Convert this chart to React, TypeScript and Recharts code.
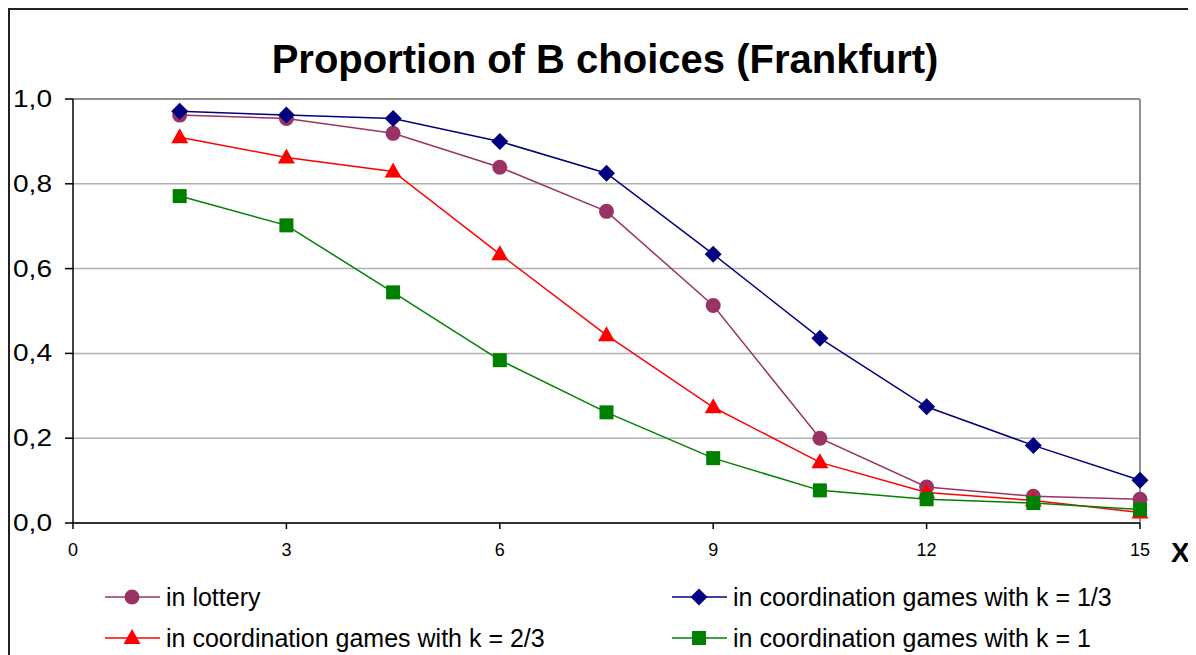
import React from 'react';
import { LineChart, Line, XAxis, YAxis, CartesianGrid, ReferenceLine, Legend } from 'recharts';

const xValues = [1.5, 3, 4.5, 6, 7.5, 9, 10.5, 12, 13.5, 15];
const lottery = [0.962, 0.954, 0.919, 0.839, 0.735, 0.513, 0.2, 0.085, 0.063, 0.056];
const kThird = [0.971, 0.962, 0.954, 0.9, 0.825, 0.634, 0.436, 0.274, 0.183, 0.101];
const kTwoThirds = [0.91, 0.862, 0.829, 0.634, 0.443, 0.273, 0.143, 0.072, 0.053, 0.025];
const kOne = [0.771, 0.702, 0.544, 0.384, 0.261, 0.153, 0.077, 0.056, 0.047, 0.032];
const xTicks = [0, 3, 6, 9, 12, 15];
const yTicks = [0, 0.2, 0.4, 0.6, 0.8, 1.0];

const seriesNames = {
  lottery: 'in lottery',
  kThird: 'in coordination games with k = 1/3',
  kTwoThirds: 'in coordination games with k = 2/3',
  kOne: 'in coordination games with k = 1',
};

const data = xValues.map((x, i) => ({
  x,
  lottery: lottery[i],
  kThird: kThird[i],
  kTwoThirds: kTwoThirds[i],
  kOne: kOne[i],
}));

const FONT = 'Liberation Sans, Arial, sans-serif';

type Shape = 'circle' | 'diamond' | 'triangle' | 'square';

const Marker = ({ cx, cy, shape, color }: { cx: number; cy: number; shape: Shape; color: string }) => {
  if (cx == null || cy == null) return null;
  if (shape === 'circle') return <circle cx={cx} cy={cy} r={7.5} fill={color} />;
  if (shape === 'diamond')
    return <polygon points={`${cx},${cy - 8.5} ${cx + 8.5},${cy} ${cx},${cy + 8.5} ${cx - 8.5},${cy}`} fill={color} />;
  if (shape === 'triangle')
    return <polygon points={`${cx},${cy - 9} ${cx + 8.5},${cy + 6} ${cx - 8.5},${cy + 6}`} fill={color} />;
  return <rect x={cx - 7} y={cy - 7} width={14} height={14} fill={color} />;
};

const seriesDefs: { key: keyof typeof seriesNames; color: string; shape: Shape }[] = [
  { key: 'lottery', color: '#993366', shape: 'circle' },
  { key: 'kThird', color: '#000080', shape: 'diamond' },
  { key: 'kTwoThirds', color: '#FF0000', shape: 'triangle' },
  { key: 'kOne', color: '#008000', shape: 'square' },
];

const LegendContent = () => {
  const positions = [
    { left: 95, top: 572 },
    { left: 662, top: 572 },
    { left: 95, top: 613 },
    { left: 662, top: 613 },
  ];
  return (
    <div>
      {seriesDefs.map((s, i) => (
        <div
          key={s.key}
          style={{
            position: 'absolute',
            left: positions[i].left,
            top: positions[i].top,
            display: 'flex',
            alignItems: 'center',
            height: 30,
            whiteSpace: 'nowrap',
          }}
        >
          <svg width={56} height={30}>
            <line x1={0} y1={15} x2={55} y2={15} stroke={s.color} strokeWidth={1.5} />
            <Marker cx={27} cy={15} shape={s.shape} color={s.color} />
          </svg>
          <span style={{ fontFamily: FONT, fontSize: 25, color: '#000', marginLeft: 5 }}>{seriesNames[s.key]}</span>
        </div>
      ))}
    </div>
  );
};

const YTick = (props: any) => {
  const { x, y, payload } = props;
  const label = Number(payload.value).toFixed(1).replace('.', ',');
  return (
    <text
      x={x}
      y={y}
      dy={8}
      textAnchor="end"
      fill="#000"
      fontSize={23}
      fontFamily={FONT}
      textLength={39}
      lengthAdjust="spacingAndGlyphs"
    >
      {label}
    </text>
  );
};

export default function App() {
  return (
    <div
      style={{
        position: 'relative',
        width: 1180,
        height: 645,
        border: '2px solid #222',
        background: '#fff',
      }}
    >
      <div
        style={{
          position: 'absolute',
          left: 0,
          width: 1190,
          top: 27,
          textAlign: 'center',
          fontFamily: FONT,
          fontWeight: 'bold',
          fontSize: 40,
          color: '#000',
        }}
      >
        Proportion of B choices (Frankfurt)
      </div>
      <div
        style={{
          position: 'absolute',
          left: 1161,
          top: 527,
          fontFamily: FONT,
          fontWeight: 'bold',
          fontSize: 28,
          color: '#000',
        }}
      >
        X
      </div>
      <LineChart width={1180} height={645} data={data} margin={{ top: 89, right: 50, left: 0, bottom: 102 }}>
        <CartesianGrid horizontal vertical={false} stroke="#b0b0b0" strokeWidth={1.5} />
        <ReferenceLine x={15} stroke="#909090" strokeWidth={2} />
        <ReferenceLine y={1} stroke="#909090" strokeWidth={2} />
        <XAxis
          dataKey="x"
          type="number"
          domain={[0, 15]}
          ticks={xTicks}
          height={30}
          tickSize={6}
          tickMargin={14}
          stroke="#000"
          strokeWidth={1.5}
          tick={{ fill: '#000', fontSize: 18, fontFamily: FONT }}
        />
        <YAxis
          type="number"
          domain={[0, 1]}
          ticks={yTicks}
          width={63}
          tickSize={8}
          tickMargin={13}
          stroke="#000"
          strokeWidth={1.5}
          tick={<YTick />}
        />
        {seriesDefs.map((s) => (
          <Line
            key={s.key}
            dataKey={s.key}
            name={seriesNames[s.key]}
            stroke={s.color}
            strokeWidth={1.5}
            isAnimationActive={false}
            dot={(p: any) => <Marker key={`${s.key}-${p.index}`} cx={p.cx} cy={p.cy} shape={s.shape} color={s.color} />}
          />
        ))}
        <Legend content={<LegendContent />} wrapperStyle={{ position: 'absolute', left: 0, top: 0, width: 0, height: 0 }} />
      </LineChart>
    </div>
  );
}
